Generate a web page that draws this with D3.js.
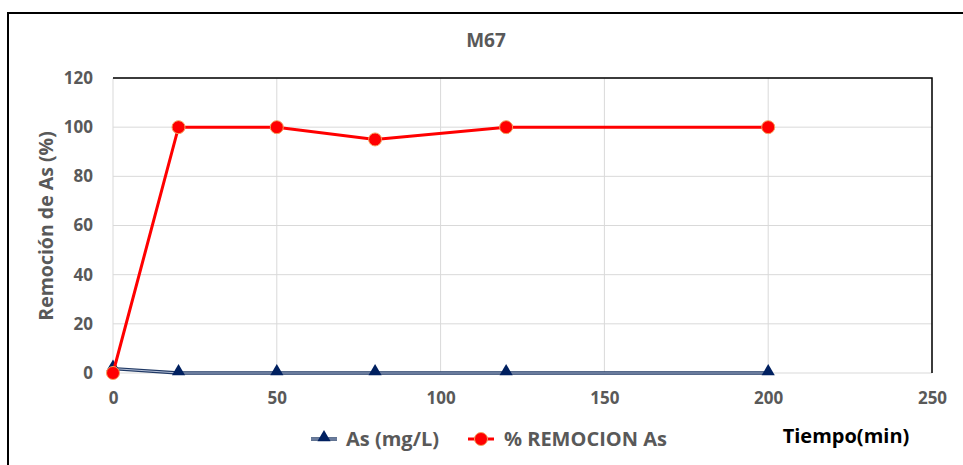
<!DOCTYPE html>
<html><head><meta charset="utf-8">
<script src="https://cdn.jsdelivr.net/npm/d3@7"></script>
<style>body{margin:0;background:#fff}svg{display:block}</style>
</head><body>
<svg id="c" width="963" height="465"></svg>
<script>
const tiempo = [0, 20, 50, 80, 120, 200];
const asMgL = [1.8, 0, 0, 0, 0, 0];
const remocion = [0, 100, 100, 95, 100, 100];
const xTicks = [0, 50, 100, 150, 200, 250];
const yTicks = [0, 20, 40, 60, 80, 100, 120];
const title = "M67";
const xTitle = "Tiempo(min)";
const yTitle = "Remoción de As (%)";
const seriesNames = ["As (mg/L)", "% REMOCION As"];

const svg = d3.select("#c");
const font = "'Open Sans', sans-serif";
const grey = "#595959";
const x = d3.scaleLinear().domain([0, 250]).range([113, 932]);
const y = d3.scaleLinear().domain([0, 120]).range([373, 78]);

// outer frame
svg.append("path").attr("d", "M8,465 V13 H963").attr("fill", "none").attr("stroke", "#000").attr("stroke-width", 2);

// grid
svg.append("g").selectAll("line").data(yTicks).join("line")
  .attr("x1", x(0)).attr("x2", x(250)).attr("y1", d => y(d)).attr("y2", d => y(d))
  .attr("stroke", "#d9d9d9").attr("stroke-width", 1);
svg.append("g").selectAll("line").data(xTicks).join("line")
  .attr("y1", y(0)).attr("y2", y(120)).attr("x1", d => x(d)).attr("x2", d => x(d))
  .attr("stroke", "#d9d9d9").attr("stroke-width", 1);
// plot border top/right
svg.append("path").attr("d", `M${x(0)},${y(120)} H${x(250)} V${y(0)}`).attr("fill", "none").attr("stroke", "#000").attr("stroke-width", 1.5);

// axes labels
const yAxis = d3.axisLeft(y).tickValues(yTicks).tickSize(0).tickPadding(20);
const gy = svg.append("g").attr("transform", `translate(${x(0)},0)`).call(yAxis);
gy.select(".domain").remove();
gy.selectAll("text").attr("font-family", font).attr("font-size", 17).attr("font-weight", "bold").attr("fill", grey);
const xAxis = d3.axisBottom(x).tickValues(xTicks).tickSize(0).tickPadding(19);
const gx = svg.append("g").attr("transform", `translate(0,${y(0)})`).call(xAxis);
gx.select(".domain").remove();
gx.selectAll("text").attr("font-family", font).attr("font-size", 17).attr("font-weight", "bold").attr("fill", grey);

// titles
svg.append("text").attr("x", 486).attr("y", 47).attr("text-anchor", "middle")
  .attr("font-family", font).attr("font-size", 19).attr("font-weight", "bold").attr("fill", grey).text(title);
svg.append("text").attr("transform", "translate(53,226) rotate(-90)").attr("text-anchor", "middle")
  .attr("font-family", font).attr("font-size", 19.5).attr("font-weight", "bold").attr("fill", grey).text(yTitle);
svg.append("text").attr("x", 846).attr("y", 443).attr("text-anchor", "middle")
  .attr("font-family", font).attr("font-size", 20).attr("font-weight", "bold").attr("fill", "#000").text(xTitle);

// blue series
const asData = tiempo.map((t, i) => [t, asMgL[i]]);
const remData = tiempo.map((t, i) => [t, remocion[i]]);
const line = d3.line().x(d => x(d[0])).y(d => y(d[1]));
svg.append("path").attr("d", line(asData)).attr("fill", "none").attr("stroke", "#1F3864").attr("stroke-width", 3.4);
svg.append("path").attr("d", line(asData)).attr("fill", "none").attr("stroke", "#c5cfe3").attr("stroke-width", 0.9);
const tri = d3.symbol().type(d3.symbolTriangle).size(75);
svg.append("g").selectAll("path").data(asData).join("path")
  .attr("d", tri).attr("transform", d => `translate(${x(d[0])},${y(d[1]) - 1.5})`).attr("fill", "#002060");

// red series
svg.append("path").attr("d", line(remData)).attr("fill", "none").attr("stroke", "#FF0000").attr("stroke-width", 3);
svg.append("g").selectAll("circle").data(remData).join("circle")
  .attr("cx", d => x(d[0])).attr("cy", d => y(d[1])).attr("r", 6.5)
  .attr("fill", "#FF0000").attr("stroke", "#F4A460").attr("stroke-width", 1);

// legend
const lg = svg.append("g");
lg.append("line").attr("x1", 311).attr("x2", 337).attr("y1", 439).attr("y2", 439).attr("stroke", "#1F3864").attr("stroke-width", 3.4);
lg.append("line").attr("x1", 311).attr("x2", 337).attr("y1", 439).attr("y2", 439).attr("stroke", "#c5cfe3").attr("stroke-width", 0.9);
lg.append("path").attr("d", tri).attr("transform", "translate(324,437.5)").attr("fill", "#002060");
lg.append("text").attr("x", 346).attr("y", 446).attr("font-family", font).attr("font-size", 20).attr("font-weight", "bold").attr("fill", grey).text(seriesNames[0]);
lg.append("line").attr("x1", 468).attr("x2", 494).attr("y1", 439).attr("y2", 439).attr("stroke", "#FF0000").attr("stroke-width", 3);
lg.append("circle").attr("cx", 481).attr("cy", 439).attr("r", 6.5).attr("fill", "#FF0000").attr("stroke", "#F4A460").attr("stroke-width", 1);
lg.append("text").attr("x", 504).attr("y", 446).attr("font-family", font).attr("font-size", 20).attr("font-weight", "bold").attr("fill", grey).text(seriesNames[1]);
</script>
</body></html>
